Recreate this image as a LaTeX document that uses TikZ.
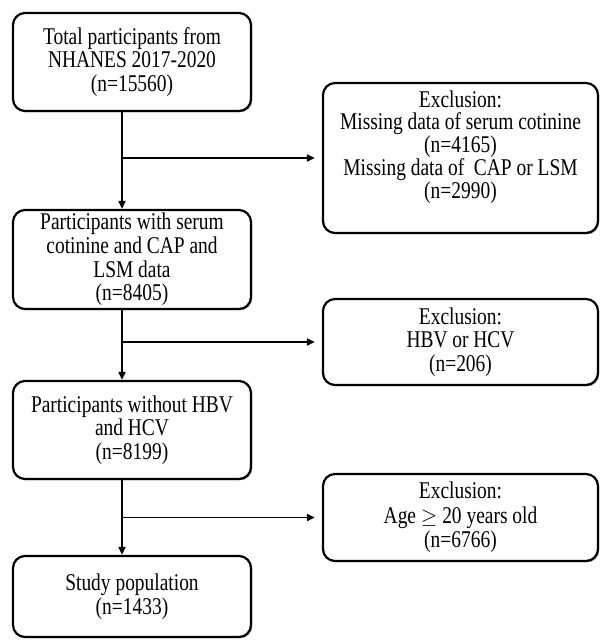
\documentclass[tikz,border=0pt]{standalone}
\usepackage{fontspec}
\setmainfont{Liberation Serif}[FakeStretch=0.81]
\usetikzlibrary{arrows.meta,shadows}
\begin{document}
\begin{tikzpicture}[x=1pt,y=-1pt,
  box/.style={draw, line width=2.2pt, rounded corners=12pt, fill=white,
    drop shadow={shadow xshift=1.2pt, shadow yshift=-1.2pt, fill=black!45, opacity=1},
    align=center, inner sep=0pt, font=\fontsize{24}{23.7}\selectfont},
  txt/.style={align=center, inner sep=0pt, font=\fontsize{24}{22.8}\selectfont},
  conn/.style={line width=1.8pt, -{Triangle[length=8pt,width=7pt]}}
]
\useasboundingbox (0,0) rectangle (601,640);
% left column
\node[box, minimum width=238pt, minimum height=98pt] (b1) at (132,62)
  {Total participants from\\NHANES 2017-2020\\(n=15560)};
\node[box, minimum width=238pt, minimum height=99pt] (b2) at (132,259.5)
  {Participants with serum\\cotinine and CAP and\\LSM data\\(n=8405)};
\node[box, minimum width=238pt, minimum height=98pt] (b3) at (132,430)
  {Participants without HBV\\and HCV\\(n=8199)};
\node[box, minimum width=238pt, minimum height=81pt] (b4) at (132,596.5)
  {Study population\\(n=1433)};
% right column
\node[box, minimum width=275pt, minimum height=150pt] (r1) at (460.5,158) {};
\node[txt] (r1t) at (460.5,147)
  {Exclusion:\\Missing data of serum cotinine\\(n=4165)\\Missing data of~ CAP or LSM\\(n=2990)};
\node[box, minimum width=275pt, minimum height=86pt] (r2) at (460.5,342)
  {Exclusion:\\HBV or HCV\\(n=206)};
\node[box, minimum width=275pt, minimum height=87pt, font=\fontsize{24}{24.5}\selectfont] (r3) at (460.5,517.5)
  {Exclusion:\\Age \smash{\scalebox{0.85}{$\geq$}} 20 years old\\(n=6766)};
% trunk points
\coordinate (t1) at (122,158);
\coordinate (t2) at (122,342);
\coordinate (t3) at (122,517.5);
% connectors
\draw[conn] (b1.south -| t1) -- (b2.north -| t1);
\draw[conn, shorten >=7pt] (t1) -- (r1.west);
\draw[conn] (b2.south -| t2) -- (b3.north -| t2);
\draw[conn, shorten >=7pt] (t2) -- (r2.west);
\draw[conn] (b3.south -| t3) -- (b4.north -| t3);
\draw[conn, shorten >=7pt] (t3) -- (r3.west);
\end{tikzpicture}
\end{document}
